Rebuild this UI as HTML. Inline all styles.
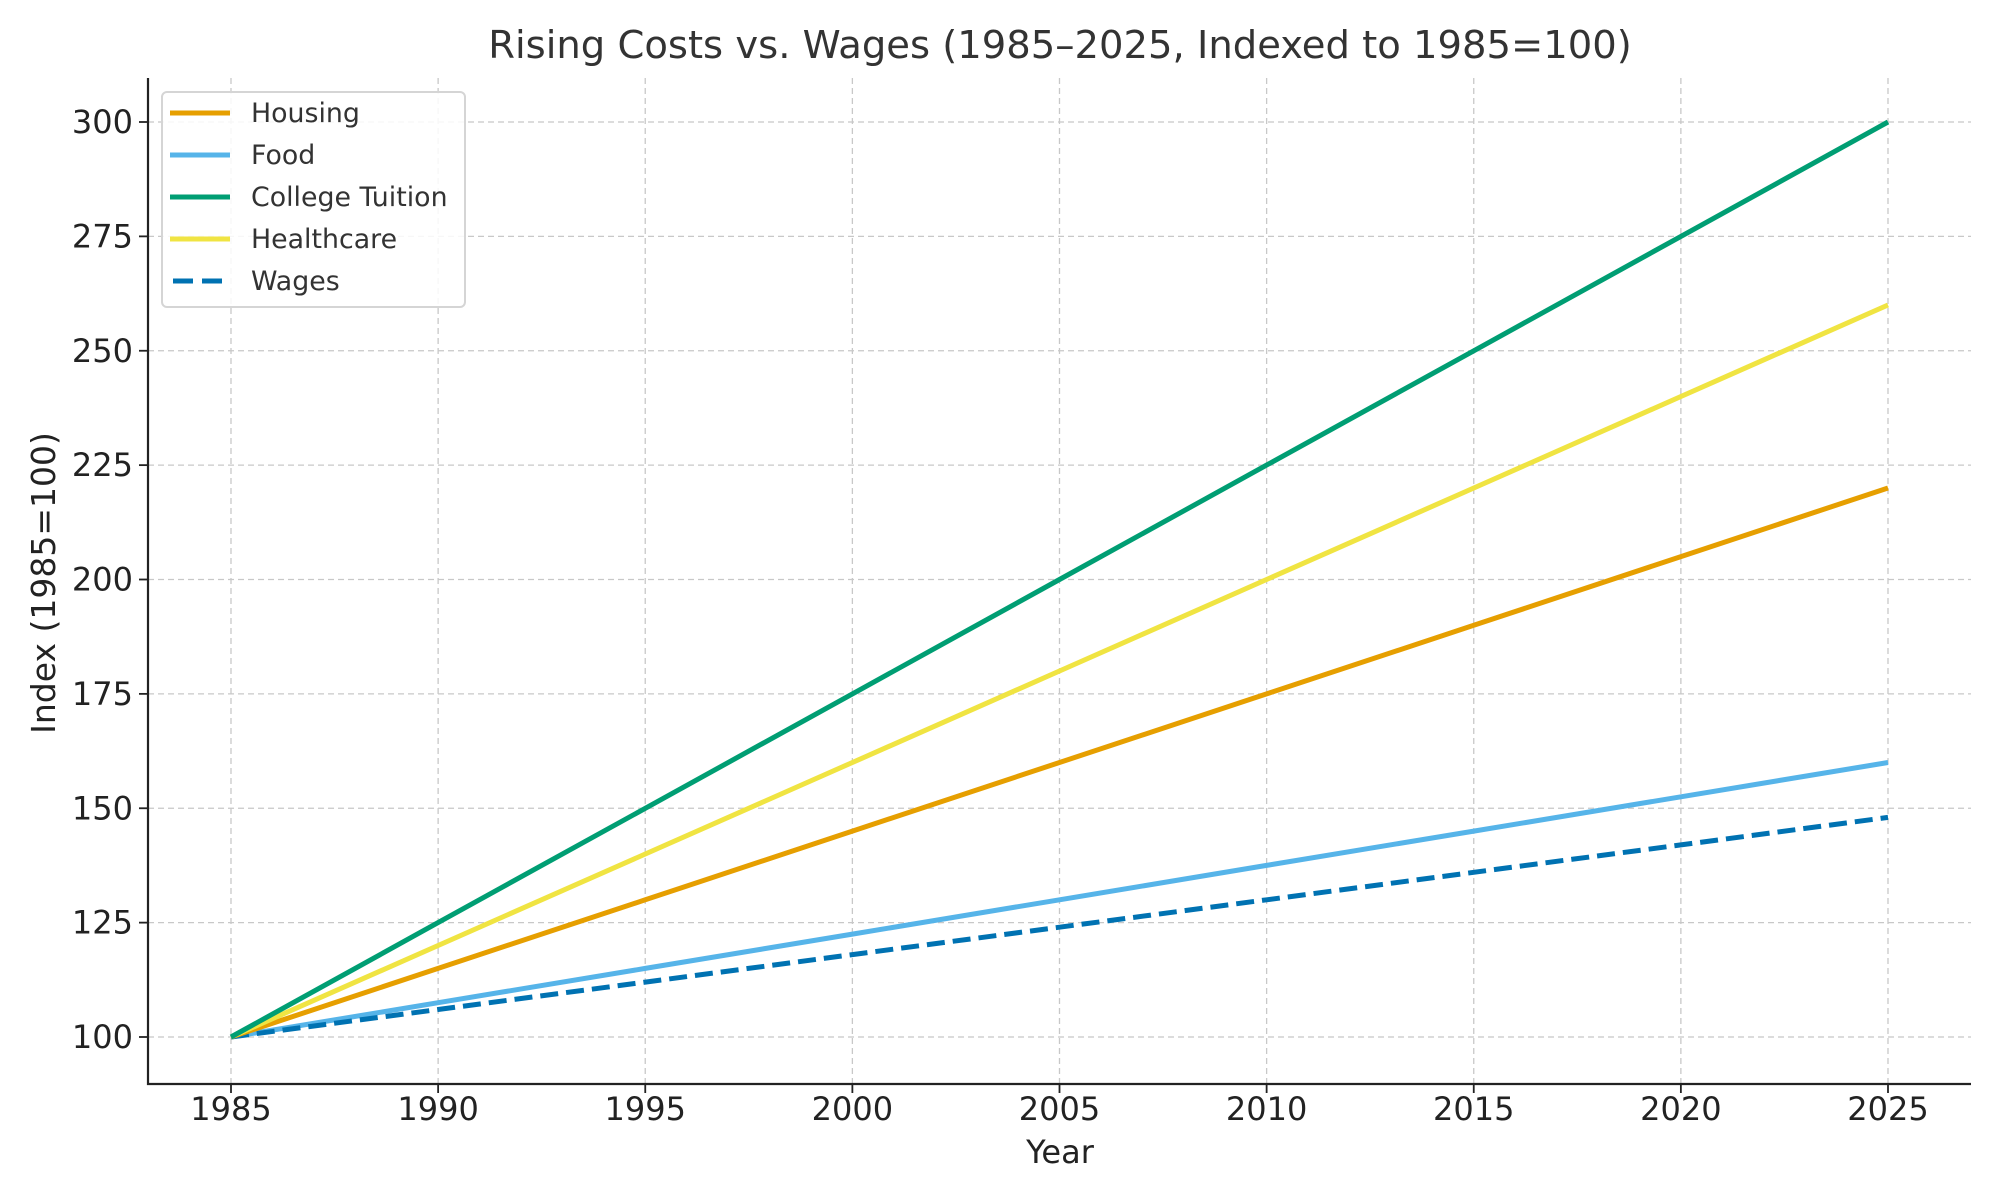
<!DOCTYPE html>
<html><head><meta charset="utf-8"><style>
html,body{margin:0;padding:0;background:#fff}
svg{display:block;font-family:"DejaVu Sans","Liberation Sans",sans-serif}
</style></head><body>
<svg id="chart" width="2000" height="1200" viewBox="0 0 2000 1200" xmlns="http://www.w3.org/2000/svg">
<rect width="2000" height="1200" fill="#fff"/>
<text x="1060" y="58" font-size="38.5" fill="#333" text-anchor="middle">Rising Costs vs. Wages (1985–2025, Indexed to 1985=100)</text>
<g id="grid"></g>
<g id="series"></g>
<g id="axes"></g>
<text x="1060" y="1163" font-size="32" fill="#222" text-anchor="middle">Year</text>
<text transform="translate(55,583) rotate(-90)" font-size="33" fill="#222" text-anchor="middle">Index (1985=100)</text>
<g>
<rect x="162" y="92" width="303" height="215" rx="5" fill="#fff" fill-opacity="0.85" stroke="#d5d5d5" stroke-width="2"/>
<g id="legend-items"></g>
</g>
</svg>
<script>
const years = [1985,1990,1995,2000,2005,2010,2015,2020,2025];
const housing = [100,115,130,145,160,175,190,205,220];
const food = [100,107.5,115,122.5,130,137.5,145,152.5,160];
const tuition = [100,125,150,175,200,225,250,275,300];
const healthcare = [100,120,140,160,180,200,220,240,260];
const wages = [100,106,112,118,124,130,136,142,148];
const xTicks = [1985,1990,1995,2000,2005,2010,2015,2020,2025];
const yTicks = [100,125,150,175,200,225,250,275,300];
const seriesNames = ["Housing","Food","College Tuition","Healthcare","Wages"];

const NS="http://www.w3.org/2000/svg";
const L=148,R=1971,T=78,B=1084;
const xs=v=>231+(v-1985)*(1888-231)/40;
const ys=v=>1037-(v-100)*(1037-122)/200;
function mk(tag,attrs,parent){const e=document.createElementNS(NS,tag);for(const k in attrs)e.setAttribute(k,attrs[k]);parent.appendChild(e);return e;}
const grid=document.getElementById('grid'),axes=document.getElementById('axes'),ser=document.getElementById('series');
xTicks.forEach(t=>{
  const g=mk('line',{x1:xs(t),x2:xs(t),y1:T,y2:B,stroke:'#c8c8c8','stroke-width':1.3,'stroke-dasharray':'6,4'},grid);
  
  
  const tk=mk('line',{x1:xs(t),x2:xs(t),y1:B,y2:B+9,stroke:'#222','stroke-width':1.8},axes);
  
  
  const tx=mk('text',{x:xs(t),y:B+36,'font-size':32,fill:'#222','text-anchor':'middle'},axes);
  tx.textContent=t;
  
  
});
yTicks.forEach(t=>{
  const g=mk('line',{x1:L,x2:R,y1:ys(t),y2:ys(t),stroke:'#c8c8c8','stroke-width':1.3,'stroke-dasharray':'6,4'},grid);
  
  
  const tk=mk('line',{x1:L-9,x2:L,y1:ys(t),y2:ys(t),stroke:'#222','stroke-width':1.8},axes);
  
  
  const tx=mk('text',{x:L-15,y:ys(t)+11,'font-size':32,fill:'#222','text-anchor':'end'},axes);
  tx.textContent=t;
  
  
});
const sp=mk('path',{d:`M${L},${T} L${L},${B} L${R},${B}`,fill:'none',stroke:'#222','stroke-width':2.2},axes);


const data=[housing,food,tuition,healthcare,wages];
const colors=['#E69F00','#56B4E9','#009E73','#F0E442','#0072B2'];
const order=[1,4,0,3,2];
order.forEach(i=>{
  const d=years.map((y,j)=>(j?'L':'M')+xs(y).toFixed(1)+','+ys(data[i][j]).toFixed(1)).join(' ');
  const p=mk('path',{d,fill:'none',stroke:colors[i],'stroke-width':5,'stroke-linecap':'butt'},ser);
  if(i===4)p.setAttribute('stroke-dasharray','18,8');
  
  
});
const li=document.getElementById('legend-items');
seriesNames.forEach((n,i)=>{
  const y=113+i*42;
  const ln=mk('line',{x1:170,x2:230,y1:y,y2:y,stroke:colors[i],'stroke-width':5},li);
  if(i===4){ln.setAttribute('x1',173);ln.setAttribute('stroke-dasharray','20,9');}
  
  
  const tx=mk('text',{x:251,y:y+9,'font-size':26.8,fill:'#333'},li);
  tx.textContent=n;
  
  
});
</script>
</body></html>
